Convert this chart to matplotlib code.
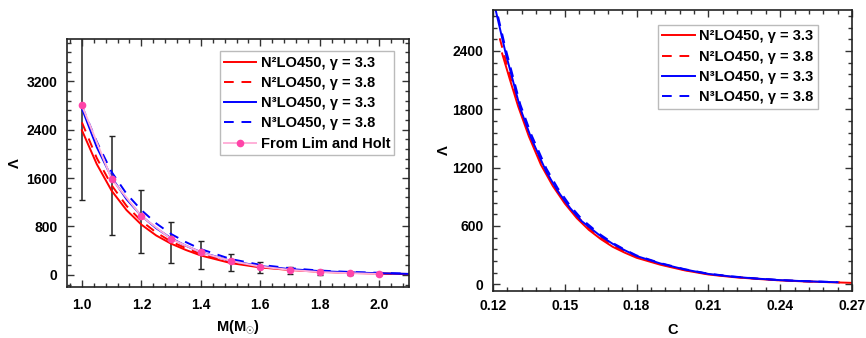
import numpy as np
import matplotlib
matplotlib.use("Agg")
import matplotlib.pyplot as plt
from matplotlib.ticker import MultipleLocator, AutoMinorLocator

plt.rcParams['font.family'] = ['Liberation Sans', 'DejaVu Sans']
plt.rcParams['font.weight'] = 'bold'
plt.rcParams['mathtext.fontset'] = 'custom'
plt.rcParams['mathtext.rm'] = 'Liberation Sans:bold'
plt.rcParams['mathtext.it'] = 'Liberation Sans:bold'
plt.rcParams['mathtext.bf'] = 'Liberation Sans:bold'

# left panel: tidal deformability vs mass
m_grid = [1.0, 1.05, 1.1, 1.15, 1.2, 1.25, 1.3, 1.35, 1.4, 1.5, 1.6, 1.7, 1.8, 1.9, 2.0, 2.1]
lam_n2_33 = [2390, 1830, 1390, 1070, 830, 650, 515, 410, 320, 195, 122, 80, 50, 33, 22, 12]
lam_n2_38 = [2520, 1930, 1480, 1140, 890, 700, 550, 440, 345, 212, 132, 86, 55, 36, 24, 14]
lam_n3_33 = [2750, 2110, 1610, 1250, 975, 770, 605, 480, 375, 232, 145, 95, 62, 41, 27, 16]
lam_n3_38 = [2790, 2200, 1700, 1340, 1070, 850, 675, 540, 425, 262, 165, 110, 71, 48, 34, 20]

# Lim and Holt points with error bars
m_lh = [1.0, 1.1, 1.2, 1.3, 1.4, 1.5, 1.6, 1.7, 1.8, 1.9, 2.0]
lam_lh = [2800, 1583, 970, 594, 372, 231, 137, 82, 46, 28, 15]
lam_lh_lo = [1232, 665, 358, 198, 104, 58, 27, 12, 5, 3, 1]
lam_lh_hi = [4000, 2298, 1402, 869, 553, 346, 220, 137, 85, 55, 35]

# right panel: tidal deformability vs compactness
c_n2_33 = [0.1238, 0.127, 0.1305, 0.135, 0.140, 0.145, 0.150, 0.155, 0.160, 0.165, 0.170,
           0.175, 0.180, 0.190, 0.200, 0.210, 0.220, 0.230, 0.240, 0.250, 0.260, 0.270]
lamc_n2_33 = [2375, 2110, 1830, 1520, 1230, 1010, 830, 680, 560, 465, 385,
              325, 272, 200, 143, 100, 74, 55, 39, 29, 21, 14]
c_n2_38 = [0.1228, 0.127, 0.1305, 0.135, 0.140, 0.145, 0.150, 0.155, 0.160, 0.165, 0.170,
           0.175, 0.180, 0.190, 0.200, 0.210, 0.220, 0.230, 0.240, 0.250, 0.265]
lamc_n2_38 = [2530, 2150, 1860, 1550, 1260, 1035, 850, 700, 578, 480, 398,
              335, 282, 207, 148, 104, 76, 57, 40, 30, 18]
c_n3_33 = [0.1205, 0.1211, 0.1253, 0.1314, 0.136, 0.1423, 0.147, 0.152, 0.157, 0.1646, 0.170,
           0.175, 0.180, 0.190, 0.200, 0.210, 0.220, 0.230, 0.240, 0.250, 0.264]
lamc_n3_33 = [2900, 2822, 2375, 1808, 1500, 1155, 960, 790, 650, 502, 416,
              350, 290, 213, 152, 106, 78, 58, 42, 31, 20]
c_n3_38 = [0.1205, 0.1211, 0.1253, 0.1314, 0.136, 0.1423, 0.147, 0.152, 0.157, 0.1646, 0.170,
           0.175, 0.180, 0.190, 0.200, 0.210, 0.220, 0.230, 0.240, 0.250, 0.264]
lamc_n3_38 = [2930, 2860, 2420, 1850, 1540, 1190, 990, 815, 672, 515, 425,
              357, 296, 217, 155, 108, 80, 59, 43, 32, 21]

labels = ['N²LO450, γ = 3.3', 'N²LO450, γ = 3.8',
          'N³LO450, γ = 3.3', 'N³LO450, γ = 3.8']


def style_axes(ax, xpad):
    for s in ax.spines.values():
        s.set_linewidth(1.2)
        s.set_color('#222222')
    ax.tick_params(which='both', direction='in', top=True, right=True,
                   labelsize=10, width=1.0, color='#333333')
    ax.tick_params(which='major', length=5)
    ax.tick_params(which='minor', length=3)
    ax.tick_params(axis='y', pad=7)
    ax.tick_params(axis='x', pad=xpad)
    ax.xaxis.set_minor_locator(AutoMinorLocator(5))
    ax.yaxis.set_minor_locator(AutoMinorLocator(5))
    for t in ax.get_xticklabels() + ax.get_yticklabels():
        t.set_fontweight('bold')


def add_legend(ax, anchor):
    leg = ax.legend(loc='upper right', bbox_to_anchor=anchor, fontsize=10.5, frameon=True,
                    fancybox=False, edgecolor='#bbbbbb', framealpha=1, handlelength=2.2,
                    borderpad=0.3, labelspacing=0.43, handletextpad=0.3, borderaxespad=0)
    leg.get_frame().set_linewidth(1.0)
    return leg


fig = plt.figure(figsize=(8.66, 3.38), dpi=100)
ax1 = fig.add_axes([0.0774, 0.151, 0.395, 0.734])
ax2 = fig.add_axes([0.5693, 0.139, 0.4145, 0.831])

lw = 1.4
dash = (5, 4)

ax1.plot(m_grid, lam_n2_33, color='red', lw=lw, label=labels[0])
ax1.plot(m_grid, lam_n2_38, color='red', lw=lw, dashes=dash, label=labels[1])
ax1.plot(m_grid, lam_n3_33, color='blue', lw=lw, label=labels[2])
ax1.plot(m_grid, lam_n3_38, color='blue', lw=lw, dashes=dash, label=labels[3])
lam_arr = np.array(lam_lh)
yerr = [lam_arr - np.array(lam_lh_lo), np.array(lam_lh_hi) - lam_arr]
ax1.errorbar(m_lh, lam_lh, yerr=yerr, fmt='none', ecolor='#222222', elinewidth=1.1,
             capsize=2.5, capthick=1.0, zorder=1)
ax1.plot(m_lh, lam_lh, color='#ffb0d8', lw=lw, marker='o', markersize=4.5,
         markerfacecolor='#ff44a8', markeredgecolor='#ff44a8', label='From Lim and Holt', zorder=4)

ax1.set_xlim(0.95, 2.1)
ax1.set_ylim(-200, 3900)
ax1.xaxis.set_major_locator(MultipleLocator(0.2))
ax1.yaxis.set_major_locator(MultipleLocator(800))
ax1.set_xlabel(r'M(M$_{\odot}$)', fontsize=10.5, fontweight='bold', labelpad=5)
ax1.set_ylabel('Λ', fontsize=10.5, fontweight='bold', labelpad=3)
style_axes(ax1, 8)
add_legend(ax1, (0.957, 0.95))

ax2.plot(c_n2_33, lamc_n2_33, color='red', lw=lw, label=labels[0])
ax2.plot(c_n2_38, lamc_n2_38, color='red', lw=lw, dashes=dash, label=labels[1])
ax2.plot(c_n3_33, lamc_n3_33, color='blue', lw=lw, label=labels[2])
ax2.plot(c_n3_38, lamc_n3_38, color='blue', lw=lw, dashes=dash, label=labels[3])
ax2.set_xlim(0.12, 0.27)
ax2.set_ylim(-70, 2820)
ax2.xaxis.set_major_locator(MultipleLocator(0.03))
ax2.yaxis.set_major_locator(MultipleLocator(600))
ax2.set_xlabel('C', fontsize=10.5, fontweight='bold', labelpad=7)
ax2.set_ylabel('Λ', fontsize=10.5, fontweight='bold', labelpad=1)
style_axes(ax2, 6)
add_legend(ax2, (0.904, 0.947))

fig.savefig('out.png', dpi=100)
